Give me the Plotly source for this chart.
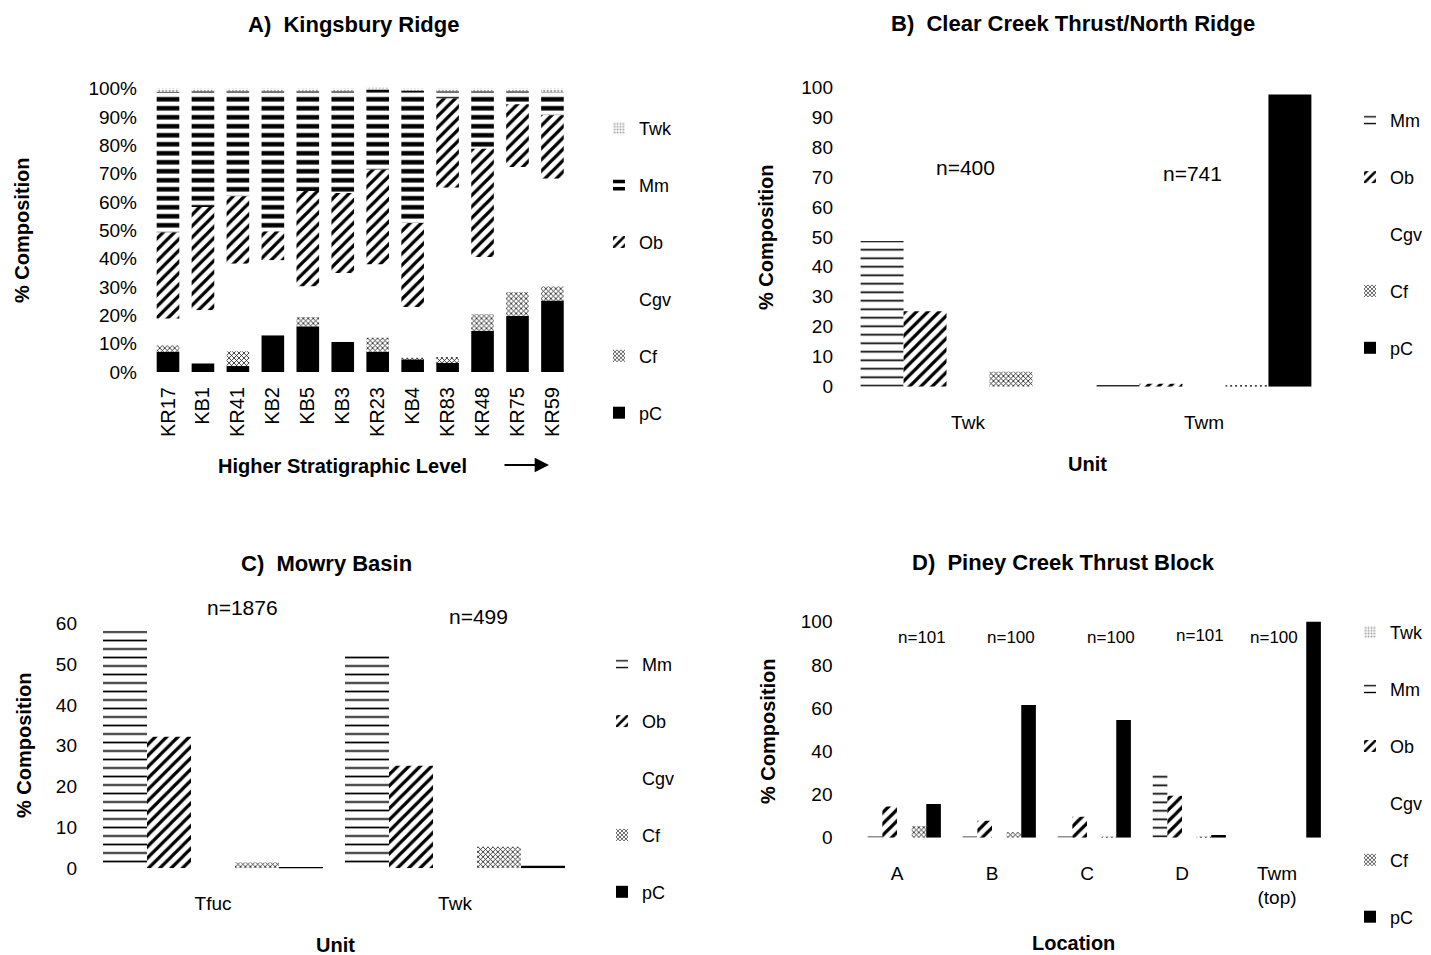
import plotly.graph_objects as go

# page body has an 8px margin: the figure starts 8px in from the window's top-left corner
PAD = 8
W, H = 1431 - PAD, 955 - PAD
FONT = "Liberation Sans"


def fx(x):
    return (x - PAD) / W


def fy(y):
    return 1 - (y - PAD) / H


# ---------------- Data ----------------
# Panel A: Kingsbury Ridge (percent composition, stacked)
a_samples = ["KR17", "KB1", "KR41", "KB2", "KB5", "KB3", "KR23", "KB4", "KR83", "KR48", "KR75", "KR59"]
a_pC = [7.1, 3.0, 2.1, 12.9, 16.1, 10.6, 7.1, 4.4, 3.2, 14.5, 19.8, 25.1]
a_Cf = [2.3, 0.0, 5.2, 0.0, 3.3, 0.0, 5.0, 0.3, 2.1, 5.9, 8.4, 5.1]
a_Cgv = [9.4, 18.8, 30.9, 26.5, 10.8, 24.3, 25.8, 18.2, 59.7, 20.2, 44.1, 38.0]
a_Ob = [30.4, 36.4, 23.8, 10.2, 33.7, 28.3, 33.5, 29.7, 31.5, 38.2, 22.2, 22.4]
a_Mm = [49.6, 40.8, 37.0, 49.4, 35.1, 35.8, 28.2, 46.6, 2.5, 20.2, 4.5, 8.0]
a_Twk = [1.2, 1.0, 1.0, 1.0, 1.0, 1.0, 0.4, 0.8, 1.0, 1.0, 1.0, 1.4]
a_ticks = list(range(0, 101, 10))

# Panel B: Clear Creek Thrust / North Ridge
b_units = ["Twk", "Twm"]
b_Mm = [48.6, 0.4]
b_Ob = [25.2, 1.0]
b_Cgv = [0.2, 0.4]
b_Cf = [5.0, 0.3]
b_pC = [0.0, 97.5]
b_n = ["n=400", "n=741"]

# Panel C: Mowry Basin
c_units = ["Tfuc", "Twk"]
c_Mm = [58.2, 52.0]
c_Ob = [32.2, 25.1]
c_Cgv = [0.2, 0.2]
c_Cf = [1.4, 5.3]
c_pC = [0.3, 0.6]
c_n = ["n=1876", "n=499"]

# Panel D: Piney Creek Thrust Block
d_locs = ["A", "B", "C", "D", "Twm<br>(top)"]
d_Twk = [0.0, 0.0, 0.0, 0.0, 0.0]
d_Mm = [0.5, 0.3, 0.3, 29.0, 0.0]
d_Ob = [14.4, 7.9, 9.7, 19.4, 0.0]
d_Cgv = [0.3, 0.2, 0.3, 0.3, 0.5]
d_Cf = [5.4, 2.5, 0.5, 0.3, 0.0]
d_pC = [15.6, 61.4, 54.5, 1.2, 100.0]
d_n = ["n=101", "n=100", "n=100", "n=101", "n=100"]


# ---------------- Styles ----------------
def pat(shape, fg, size, solidity):
    return dict(shape=shape, fgcolor=fg, bgcolor="white", size=size, solidity=solidity,
                fillmode="replace", fgopacity=1)


def mk(kind, thick=False):
    if kind == "Twk":
        return dict(color="white", line=dict(width=0), pattern=pat(".", "#9a9a9a", 3.5, 0.35))
    if kind == "Mm":
        if thick:
            return dict(color="white", line=dict(width=0), pattern=pat("-", "black", 9, 0.5))
        return dict(color="white", line=dict(width=0), pattern=pat("-", "black", 8.5, 0.2))
    if kind == "Ob":
        return dict(color="white", line=dict(width=0), pattern=pat("/", "black", 8, 0.4))
    if kind == "Cgv":
        return dict(color="white", line=dict(width=0))
    if kind == "Cf":
        return dict(color="white", line=dict(width=0), pattern=pat("x", "#111", 3.5, 0.4))
    if kind == "pC":
        return dict(color="black", line=dict(width=0))


fig = go.Figure()

# ---- Panel A (stacked via base) ----
a_series = [("pC", a_pC), ("Cf", a_Cf), ("Cgv", a_Cgv), ("Ob", a_Ob), ("Mm", a_Mm), ("Twk", a_Twk)]
bases = {}
running = [0.0] * len(a_samples)
for name, vals in a_series:
    bases[name] = list(running)
    running = [r + v for r, v in zip(running, vals)]
a_w = 0.647
for name in ["Twk", "Mm", "Ob", "Cgv", "Cf", "pC"]:
    vals = dict(a_series)[name]
    fig.add_trace(go.Bar(
        x=a_samples, y=vals, base=bases[name], name=name, marker=mk(name, thick=True),
        width=a_w, offset=-a_w / 2, xaxis="x", yaxis="y",
        legend="legend", legendgroup="a" + name, hoverinfo="skip"))


# ---- grouped panels ----
def grouped(cats, series, xa, ya, leg, w):
    n = len(series)
    start = -n * w / 2
    for k, (name, vals) in enumerate(series):
        fig.add_trace(go.Bar(
            x=cats, y=vals, name=name, marker=mk(name), width=w, offset=start + k * w,
            xaxis=xa, yaxis=ya, legend=leg, legendgroup=leg + name, hoverinfo="skip"))


grouped(b_units, [("Mm", b_Mm), ("Ob", b_Ob), ("Cgv", b_Cgv), ("Cf", b_Cf), ("pC", b_pC)],
        "x2", "y2", "legend2", 0.182)
grouped(c_units, [("Mm", c_Mm), ("Ob", c_Ob), ("Cgv", c_Cgv), ("Cf", c_Cf), ("pC", c_pC)],
        "x3", "y3", "legend3", 0.1818)
grouped(d_locs, [("Twk", d_Twk), ("Mm", d_Mm), ("Ob", d_Ob), ("Cgv", d_Cgv), ("Cf", d_Cf), ("pC", d_pC)],
        "x4", "y4", "legend4", 0.154)

tickfont = dict(family=FONT, size=19, color="black")
base_ax = dict(showline=False, showgrid=False, zeroline=False, ticks="", tickfont=tickfont,
               fixedrange=True, automargin=False)


def ydom(y0px, top_val, ppu):
    top_px = y0px - top_val * ppu
    return [fy(y0px), fy(top_px)]


layout = dict(
    width=W, height=H, margin=dict(l=0, r=0, t=0, b=0, autoexpand=False),
    paper_bgcolor="white", plot_bgcolor="white",
    barmode="overlay", font=dict(family=FONT, color="black"),
    xaxis=dict(base_ax, domain=[fx(140), fx(575)], range=[-0.801, 11.645], tickangle=-90,
               type="category", anchor="y", ticklabelstandoff=10,
               tickfont=dict(family=FONT, size=20, color="black")),
    yaxis=dict(base_ax, domain=ydom(372, 101, 2.834), range=[0, 101], tickvals=a_ticks,
               ticktext=["%d%%" % v for v in a_ticks], anchor="x", ticklabelstandoff=2),
    xaxis2=dict(base_ax, domain=[fx(850), fx(1322)], range=[-0.5, 1.5], type="category", anchor="y2",
                ticklabelstandoff=22),
    yaxis2=dict(base_ax, domain=ydom(386.7, 101, 2.997), range=[0, 101], tickvals=list(range(0, 101, 10)),
                anchor="x2", ticklabelstandoff=16),
    xaxis3=dict(base_ax, domain=[fx(92), fx(576)], range=[-0.5, 1.5], type="category", anchor="y3",
                ticklabelstandoff=22),
    yaxis3=dict(base_ax, domain=ydom(868.3, 61, 4.083), range=[0, 61], tickvals=list(range(0, 61, 10)),
                anchor="x3", ticklabelstandoff=14),
    xaxis4=dict(base_ax, domain=[fx(849.5), fx(1324.5)], range=[-0.5, 4.5], type="category", anchor="y4",
                ticklabelstandoff=22),
    yaxis4=dict(base_ax, domain=ydom(837.7, 101, 2.16), range=[0, 101], tickvals=list(range(0, 101, 20)),
                anchor="x4", ticklabelstandoff=16),
)

leg_common = dict(font=dict(family=FONT, size=18, color="black"), bgcolor="rgba(0,0,0,0)",
                  tracegroupgap=30.5, xanchor="left", yanchor="top", traceorder="grouped", itemclick=False,
                  itemdoubleclick=False)
layout["legend"] = dict(leg_common, x=fx(599), y=fy(110))
layout["legend2"] = dict(leg_common, x=fx(1350), y=fy(102))
layout["legend3"] = dict(leg_common, x=fx(602), y=fy(646))
layout["legend4"] = dict(leg_common, x=fx(1350), y=fy(614))

fig.update_layout(**layout)

ann = []


def text(t, x, y, size=19, bold=False, angle=0):
    ann.append(dict(text=("<b>%s</b>" % t) if bold else t, x=fx(x), y=fy(y), xref="paper", yref="paper",
                    showarrow=False, xanchor="center", yanchor="middle", textangle=angle,
                    font=dict(family=FONT, size=size, color="black")))


# titles
text("A)  Kingsbury Ridge", 353, 25, 22, True)
text("B)  Clear Creek Thrust/North Ridge", 1073, 23, 22, True)
text("C)  Mowry Basin", 326, 563, 22, True)
text("D)  Piney Creek Thrust Block", 1063, 562, 22, True)
# axis titles
text("% Composition", 22, 230, 20, True, -90)
text("% Composition", 766, 237, 20, True, -90)
text("% Composition", 24, 745, 20, True, -90)
text("% Composition", 768, 731, 20, True, -90)
text("Higher Stratigraphic Level", 342, 466, 20, True)
text("Unit", 1087, 464, 20, True)
text("Unit", 335, 945, 20, True)
text("Location", 1073, 943, 20, True)
# arrow
ann.append(dict(x=fx(549), y=fy(465), ax=-46, ay=0, xref="paper", yref="paper", axref="pixel",
                ayref="pixel", text="", showarrow=True, arrowhead=2, arrowsize=1.3, arrowwidth=2.2,
                arrowcolor="black"))
# n labels
for t, x, y in zip(b_n, [965, 1192], [168, 173]):
    text(t, x, y, 21)
for t, x, y in zip(c_n, [242, 478], [607, 616]):
    text(t, x, y, 21)
for t, x, y in zip(d_n, [922, 1011, 1111, 1200, 1274], [637, 637, 637, 635, 637]):
    text(t, x, y, 17)

fig.update_layout(annotations=ann)
fig.write_html("out.html")
